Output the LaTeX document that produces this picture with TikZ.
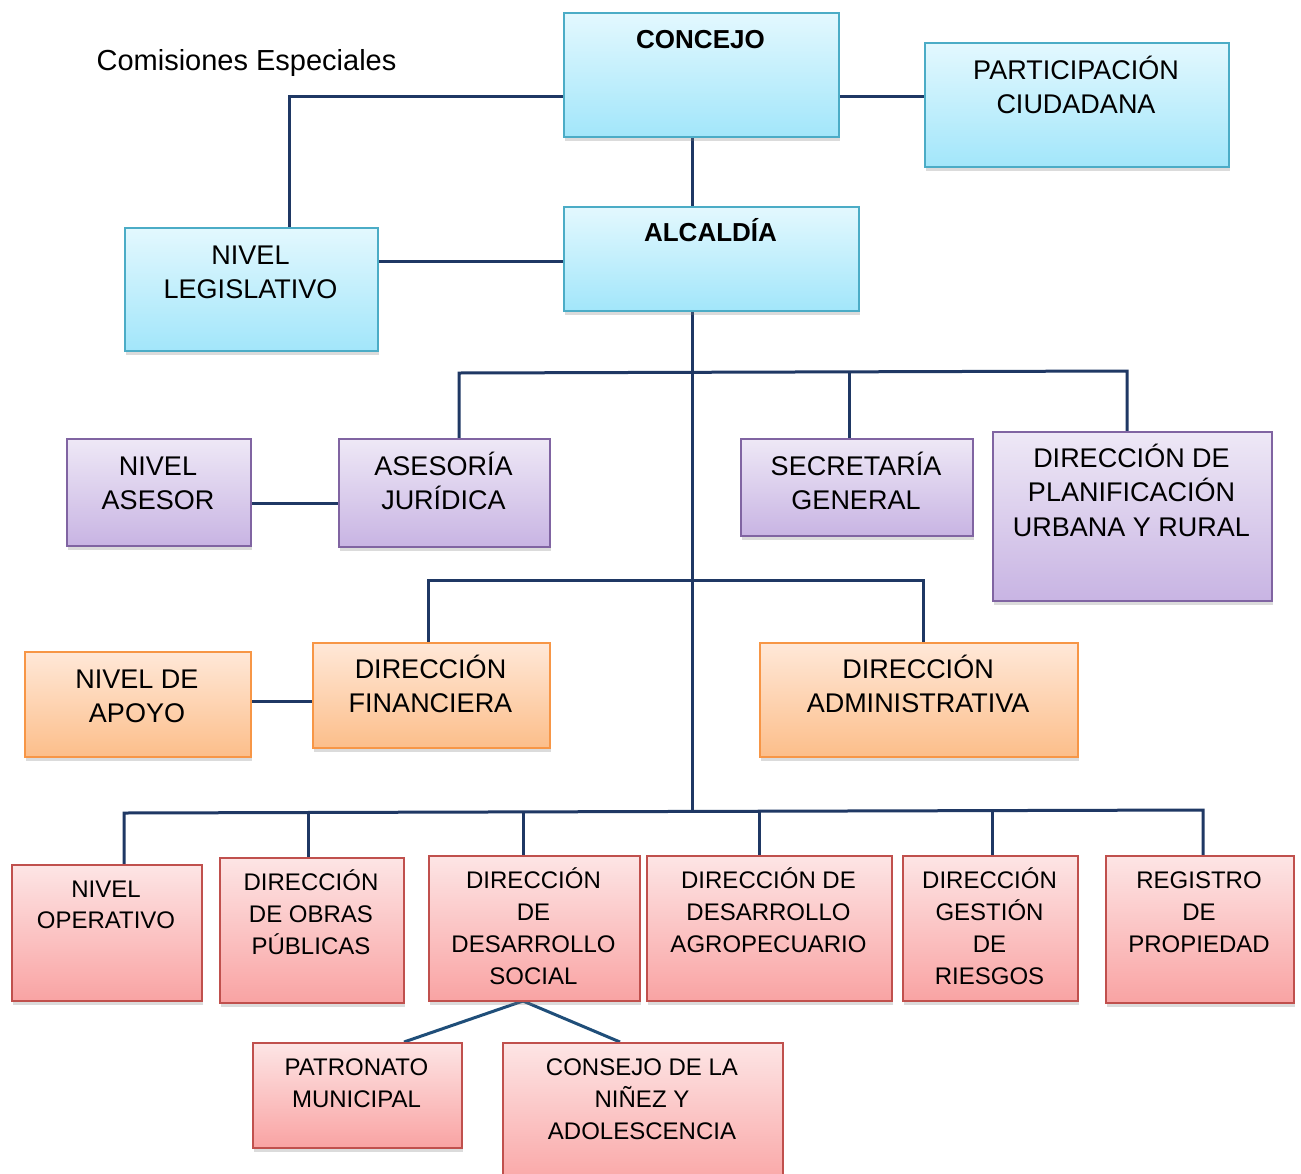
\documentclass[tikz,border=0pt]{standalone}
\usepackage{fontspec}
\setmainfont{Liberation Sans}
\usetikzlibrary{shadows,backgrounds}
\definecolor{bluetop}{HTML}{E3F8FE}
\definecolor{bluebot}{HTML}{A2E6FA}
\definecolor{bluebd}{HTML}{4BACC6}
\definecolor{purtop}{HTML}{EEE8F6}
\definecolor{purbot}{HTML}{C8B4E3}
\definecolor{purbd}{HTML}{8064A2}
\definecolor{oratop}{HTML}{FFE8D8}
\definecolor{orabot}{HTML}{FCBE8A}
\definecolor{orabd}{HTML}{F79646}
\definecolor{redtop}{HTML}{FDE5E5}
\definecolor{redbot}{HTML}{F9A3A3}
\definecolor{redbd}{HTML}{C0504D}
\definecolor{navy}{HTML}{1F3864}
\definecolor{navy2}{HTML}{1F4E79}
\tikzset{
  orgbox/.style={draw, line width=1.8pt, inner sep=0pt, anchor=north west,
    drop shadow={shadow xshift=1.5pt, shadow yshift=-4pt, opacity=0.28}},
  bluebox/.style={orgbox, draw=bluebd, top color=bluetop, bottom color=bluebot},
  purbox/.style={orgbox, draw=purbd, top color=purtop, bottom color=purbot},
  orabox/.style={orgbox, draw=orabd, top color=oratop, bottom color=orabot},
  redbox/.style={orgbox, draw=redbd, top color=redtop, bottom color=redbot},
  conn/.style={draw=navy, line width=3pt},
  conn2/.style={draw=navy2, line width=3pt},
  bigtxt/.style={font=\fontsize{27}{34.5}\selectfont, align=center, inner sep=0pt, anchor=north},
  smalltxt/.style={font=\fontsize{24}{32}\selectfont, align=center, inner sep=0pt, anchor=north},
  boldtxt/.style={font=\fontsize{26}{33}\selectfont\bfseries, align=center, inner sep=0pt, anchor=north},
}
% #1 style, #2 name, #3 x1, #4 y1, #5 x2, #6 y2
\newcommand\mkbox[6]{%
  \node[#1, minimum width={(#5-#3)*1pt}, minimum height={(#6-#4)*1pt}] (#2) at (#3,#4) {};}
\newcommand\rB{\rule{0pt}{25.5pt}}
\newcommand\rS{\rule{0pt}{22.3pt}}
\begin{document}
\begin{tikzpicture}[x=1pt,y=-1pt]
\useasboundingbox (0,0) rectangle (1301,1173);

% boxes
\mkbox{bluebox}{concejo}{563}{12}{838}{136}
\mkbox{bluebox}{partic}{924}{42}{1228}{166}
\mkbox{bluebox}{alcaldia}{563}{206}{858}{310}
\mkbox{bluebox}{legis}{124}{227}{377}{350}

\mkbox{purbox}{asesor}{66}{438}{250}{545}
\mkbox{purbox}{juridica}{338}{438}{549}{546}
\mkbox{purbox}{secret}{740}{438}{972}{535}
\mkbox{purbox}{planif}{992}{431}{1271}{600}

\mkbox{orabox}{apoyo}{24}{651}{250}{756}
\mkbox{orabox}{financ}{312}{642}{549}{747}
\mkbox{orabox}{admin}{759}{642}{1077}{756}

\mkbox{redbox}{oper}{11}{864}{201}{1000}
\mkbox{redbox}{obras}{219}{857}{403}{1002}
\mkbox{redbox}{social}{428}{855}{639}{1000}
\mkbox{redbox}{agro}{646}{855}{891}{1000}
\mkbox{redbox}{riesgos}{902}{855}{1077}{1000}
\mkbox{redbox}{registro}{1105}{855}{1293}{1002}
\mkbox{redbox}{patronato}{252}{1042}{461}{1147}
\mkbox{redbox}{ninez}{502}{1042}{782}{1190}

% texts
\node[font=\fontsize{29}{34}\selectfont, anchor=base, inner sep=0pt] (comis) at (246.5,70) {Comisiones Especiales};
\node[boldtxt] (t-concejo) at (700.5,24) {\rule{0pt}{24.5pt}CONCEJO};
\node[boldtxt] (t-alcaldia) at (710.5,217) {\rule{0pt}{24.5pt}ALCALDÍA};
\node[bigtxt] (t-partic) at (1076,53.3) {\rB PARTICIPACIÓN\\CIUDADANA};
\node[bigtxt] (t-legis) at (250.5,238.3) {\rB NIVEL\\LEGISLATIVO};
\node[bigtxt] (t-asesor) at (158,449.3) {\rB NIVEL\\ASESOR};
\node[bigtxt] (t-juridica) at (443.5,449.3) {\rB ASESORÍA\\JURÍDICA};
\node[bigtxt] (t-secret) at (856,449.3) {\rB SECRETARÍA\\GENERAL};
\node[bigtxt] (t-planif) at (1131.5,441.3) {\rB DIRECCIÓN DE\\PLANIFICACIÓN\\URBANA Y RURAL};
\node[bigtxt] (t-apoyo) at (137,662.3) {\rB NIVEL DE\\APOYO};
\node[bigtxt] (t-financ) at (430.5,652.3) {\rB DIRECCIÓN\\FINANCIERA};
\node[bigtxt] (t-admin) at (918,652.3) {\rB DIRECCIÓN\\ADMINISTRATIVA};
\node[smalltxt, font=\fontsize{24}{30.5}\selectfont] (t-oper) at (106,875.4) {\rS NIVEL\\OPERATIVO};
\node[smalltxt] (t-obras) at (311,868.4) {\rS DIRECCIÓN\\DE OBRAS\\PÚBLICAS};
\node[smalltxt] (t-social) at (533.5,866.4) {\rS DIRECCIÓN\\DE\\DESARROLLO\\SOCIAL};
\node[smalltxt] (t-agro) at (768.5,866.4) {\rS DIRECCIÓN DE\\DESARROLLO\\AGROPECUARIO};
\node[smalltxt] (t-riesgos) at (989.5,866.4) {\rS DIRECCIÓN\\GESTIÓN\\DE\\RIESGOS};
\node[smalltxt] (t-registro) at (1199,866.4) {\rS REGISTRO\\DE\\PROPIEDAD};
\node[smalltxt] (t-patronato) at (356.5,1053.4) {\rS PATRONATO\\MUNICIPAL};
\node[smalltxt] (t-ninez) at (642,1053.4) {\rS CONSEJO DE LA\\NIÑEZ Y\\ADOLESCENCIA};

% connectors
\begin{scope}[on background layer]
\fill[white] (0,0) rectangle (1301,1173);
\coordinate (jl) at (289,96);
\coordinate (tx) at (692,400);
\coordinate (jlg) at (470,261);
\coordinate (bus3) at (692,812);
\coordinate (jsoc) at (523,1001);
\draw[conn] (concejo.west |- jl) -- (jl) -- (jl |- legis.north);
\draw[conn] (concejo.east |- jl) -- (partic.west |- jl);
\draw[conn] (concejo.south -| tx) -- (alcaldia.north -| tx);
\draw[conn] (legis.east |- jlg) -- (alcaldia.west |- jlg);
\draw[conn] (alcaldia.south -| tx) -- (bus3);
% level 1 bus
\draw[conn] (juridica.north -| 459,0) -- (459,373) -- (1127,371) -- (planif.north -| 1127,0);
\draw[conn] (849,371.5) -- (secret.north -| 849,0);
\draw[conn] (asesor.east |- 0,503) -- (juridica.west |- 0,503);
% level 2 bus
\draw[conn] (financ.north -| 428,0) -- (428,580) -- (923,580) -- (admin.north -| 923,0);
\draw[conn] (apoyo.east |- 0,701) -- (financ.west |- 0,701);
% level 3 bus
\draw[conn] (oper.north -| 124,0) -- (124,813) -- (1203,810) -- (registro.north -| 1203,0);
\draw[conn] (308,812.5) -- (obras.north -| 308,0);
\draw[conn] (523,812) -- (social.north -| 523,0);
\draw[conn] (759,811.5) -- (agro.north -| 759,0);
\draw[conn] (992,811) -- (riesgos.north -| 992,0);
% social sub-branches
\draw[conn2] (jsoc) -- (patronato.north -| 404,0);
\draw[conn2] (jsoc) -- (ninez.north -| 620,0);
\end{scope}
\end{tikzpicture}
\end{document}
